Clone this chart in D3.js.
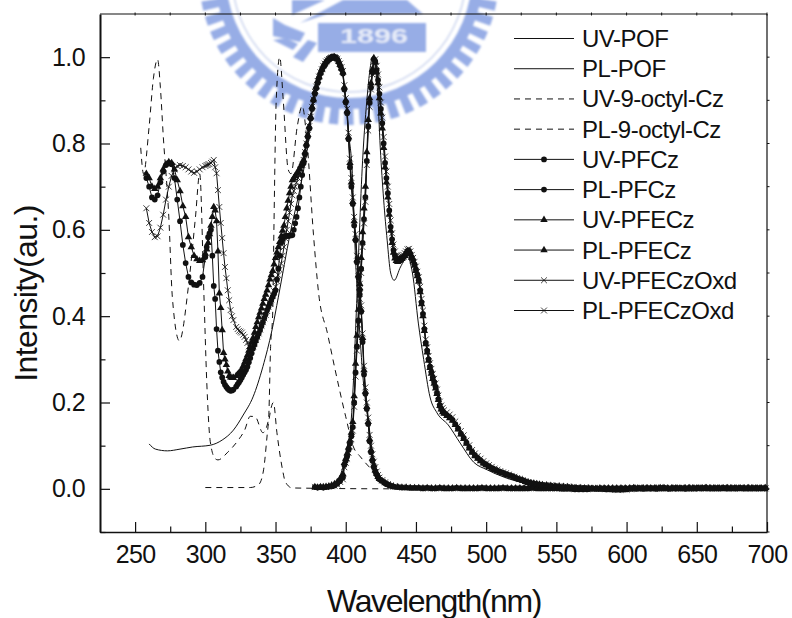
<!DOCTYPE html>
<html>
<head>
<meta charset="utf-8">
<script src="https://cdn.jsdelivr.net/npm/d3@7"></script>
<style>
  html, body { margin: 0; padding: 0; background: #fff; }
  text { font-family: "Liberation Sans", Arial, sans-serif; fill: #111; }
</style>
</head>
<body>
<div id="chart"></div>
<script>
var w = 792;
var h = 618;
var margin = ({top: 14, right: 25, bottom: 86, left: 100});

// wavelength grids, denser where the curves are steep
var uvGrid = [].concat(d3.range(258, 300, 2), d3.range(300, 321, 1), d3.range(322, 399, 1), d3.range(399, 425, 1), d3.range(426, 433, 2), d3.range(434, 701, 3));
var plGrid = [].concat(d3.range(378, 399, 2), d3.range(399, 471, 1), d3.range(472, 541, 2), d3.range(543, 701, 3));

// the flat end of the three absorption scans, 434 to 698 nm
var uvTail = [.005,.004,.003,.003,.002,.002,.002,.001,.002,.001,.001,.002,.001,.001,.001,.002,.001,.001,.001,.001,
  .001,.002,.001,.001,.001,.001,.002,.001,.001,.001,.001,.001,.001,.002,.001,.001,.001,.001,.001,.001,
  0,0,0,-.001,-.001,-.001,-.001,0,0,.001,.001,.001,.001,.001,.001,.001,.001,.002,.001,.001,
  .001,.001,.001,.001,.002,.001,.001,.001,.001,.001,.001,.001,.001,.001,.002,.001,.001,.001,.001,.001,
  .001,.001,.001,.001,.001,.001,.001,.001,.001];

var uvPFCz = [.72,.70,.675,.67,.68,.71,.735,.75,.755,.752,.72,.67,.62,.565,.523,.491,.478,.473,.472,.477,.491,
  .537,.56,.583,.592,.6,.54,.47,.44,.37,.32,.294,.27,.258,.248,.241,.236,.232,.229,.227,.228,.23,
  .237,.242,.247,.252,.258,.264,.27,.276,.283,.293,
  .303,.314,.325,.334,.343,.352,.36,.368,.377,.386,
  .396,.405,.414,.422,.43,.438,.445,.452,.46,.485,
  .51,.54,.57,.578,.585,.586,.586,.586,.587,.587,
  .588,.6,.615,.63,.65,.675,.7,.727,.754,.775,
  .795,.815,.835,.858,.88,.9,.915,.928,.94,.952,
  .962,.97,.977,.982,.987,.991,.995,.997,.999,1,
  1,.998,.995,.988,.98,.972,.962,
  .925,.895,.87,.81,.745,.70,.66,.61,.576,.525,.49,.46,.41,.34,.265,.22,.185,.15,.11,.085,.065,.05,.04,.033,.027,.022,
  .018,.013,.01,.007].concat(uvTail);
var uvPFECz = [.73,.72,.70,.695,.70,.72,.74,.752,.757,.755,.74,.715,.69,.655,.63,.583,.56,.54,.532,.528,.53,
  .545,.555,.57,.59,.61,.63,.653,.645,.62,.55,.453,.419,.368,.315,.3,.287,.272,.262,.258,.257,.257,
  .262,.265,.268,.272,.277,.285,.293,.301,.31,.32,
  .329,.34,.35,.362,.375,.386,.398,.408,.418,.429,
  .44,.45,.46,.472,.485,.495,.505,.52,.535,.548,
  .56,.572,.585,.598,.61,.63,.65,.668,.685,.7,
  .715,.72,.725,.73,.735,.741,.748,.755,.762,.78,
  .80,.82,.84,.862,.885,.902,.92,.932,.945,.955,
  .965,.972,.98,.985,.99,.993,.996,.998,.999,1,
  1,.998,.996,.99,.983,.974,.965,
  .93,.90,.875,.815,.755,.71,.665,.62,.58,.53,.495,.465,.415,.35,.275,.225,.19,.155,.115,.09,.07,.055,.043,.035,.028,.023,
  .018,.014,.01,.007].concat(uvTail);
var uvOxd = [.65,.616,.595,.583,.585,.605,.635,.67,.70,.725,.74,.748,.75,.748,.745,.74,.735,.732,.735,.74,.745,
  .748,.75,.751,.752,.755,.758,.762,.745,.731,.692,.653,.616,.581,.546,.514,.488,.46,.437,.414,.40,.391,
  .375,.37,.366,.364,.362,.357,.352,.345,.338,.33,
  .322,.326,.33,.337,.345,.352,.36,.369,.378,.386,
  .395,.403,.412,.421,.43,.439,.448,.458,.468,.481,
  .495,.508,.522,.54,.56,.58,.6,.62,.64,.66,
  .68,.69,.70,.71,.72,.73,.74,.751,.762,.78,
  .80,.82,.84,.862,.885,.902,.92,.932,.945,.955,
  .965,.972,.98,.985,.99,.993,.996,.998,.999,1,
  1,.998,.996,.991,.985,.977,.968,
  .935,.905,.88,.825,.765,.72,.675,.63,.59,.54,.505,.475,.425,.36,.285,.235,.2,.165,.125,.1,.08,.063,.05,.04,.032,.026,
  .02,.015,.011,.008].concat(uvTail);

var plPFCz = [.004,.003,.004,.003,.004,.005,.006,.008,.012,.018,.026,
  .055,.065,.075,.09,.105,.122,.143,.2,.27,.33,.39,.45,.51,.57,.625,.676,.76,.84,.895,.93,
  .965,.995,.99,.97,.947,.915,.88,.847,.8,.755,.72,.685,.645,.607,.578,.553,.54,.533,.53,.531,
  .533,.535,.537,.541,.546,.551,.552,.545,.537,.53,.52,.508,.496,.484,.46,.432,.405,.37,.338,.32,
  .3,.283,.27,.258,.247,.236,.222,.208,.194,.186,.18,.176,
  .171,.166,.16,.15,.14,.128,.118,.107,.096,.086,.078,.072,.066,.06,.056,.052,.048,.045,.042,.039,
  .037,.034,.032,.03,.027,.024,.022,.02,.017,.015,.013,.012,.011,.01,.009,
  .008,.007,.006,.005,.004,.004,.003,.003,.002,.002,.001,.001,0,0,-.001,-.001,-.002,-.002,-.002,-.001,
  0,0,.001,0,.001,.001,0,.001,.001,0,.001,.001,.001,0,.001,.001,.002,.001,.001,.001,
  .001,.001,.002,.001,.001,.001,.002,.001,.001,.001,.001,.001,.001,.001];
var plPFECz = [.004,.003,.004,.004,.005,.006,.008,.011,.016,.024,.034,
  .06,.07,.082,.096,.112,.13,.155,.215,.29,.355,.415,.475,.535,.595,.65,.70,.78,.855,.905,.94,
  .972,.998,.988,.965,.94,.905,.87,.835,.79,.745,.71,.675,.635,.598,.57,.547,.534,.528,.526,.528,
  .53,.533,.536,.54,.545,.55,.551,.543,.535,.527,.517,.505,.493,.48,.456,.428,.4,.366,.335,.316,
  .297,.28,.267,.255,.244,.233,.22,.206,.192,.184,.178,.174,
  .169,.164,.158,.148,.138,.126,.116,.105,.094,.084,.076,.07,.064,.059,.055,.051,.047,.044,.041,.038,
  .036,.033,.031,.029,.026,.023,.021,.019,.016,.014,.013,.012,.011,.01,.009,
  .008,.007,.006,.006,.005,.004,.003,.002,.002,.001,.001,0,0,-.001,-.001,-.002,-.002,-.002,-.001,-.001,
  0,.001,0,.001,.001,0,.001,.002,.001,0,.001,.001,0,.001,.002,.001,.001,.001,.002,.001,
  .001,.001,.001,.002,.001,.001,.001,.001,.002,.001,.001,.001,.002,.001];
var plOxd = [.004,.004,.003,.004,.004,.005,.006,.007,.01,.016,.022,
  .05,.06,.07,.084,.098,.115,.135,.19,.26,.32,.38,.44,.5,.56,.615,.665,.75,.83,.885,.925,
  .96,.99,.995,.98,.96,.93,.895,.86,.815,.77,.735,.7,.66,.622,.592,.566,.55,.541,.537,.537,
  .538,.54,.542,.546,.55,.555,.556,.55,.542,.535,.526,.515,.503,.49,.468,.44,.413,.378,.346,.328,
  .308,.291,.278,.266,.255,.244,.23,.216,.202,.193,.187,.182,
  .177,.172,.166,.156,.146,.134,.124,.112,.101,.09,.082,.076,.07,.064,.059,.055,.051,.047,.044,.041,
  .038,.036,.033,.03,.028,.025,.023,.02,.018,.016,.014,.012,.011,.01,.009,
  .009,.008,.007,.006,.005,.005,.004,.003,.002,.002,.002,.001,0,0,-.001,-.002,-.002,-.003,-.002,-.002,
  -.001,0,0,.001,0,.001,.001,0,.001,.001,0,.002,.001,.001,.001,0,.001,.002,.001,.001,
  .001,.002,.001,.001,.001,.002,.001,.001,.001,.001,.002,.001,.001,.001];

// thin curves without markers, own wavelength lists
var uvPOFWl = [260,264.5,273,282,291,303.5,312,320,327,334,341,347.5,352,360.5,367.7,372.5,377,383,391,397.5,402,404.7,407,409,412.5,416,421,430,440];
var uvPOF = [.104,.092,.088,.092,.097,.101,.113,.136,.171,.213,.283,.368,.444,.593,.7,.785,.893,.963,1,.963,.824,.731,.53,.414,.25,.16,.05,.014,.002];
var plPOFWl = [378,390,396,401,403.5,405.5,407.5,412,415.5,417.5,419,420.5,422.5,424.6,427,429.5,432,434.5,439,444,447.5,451.7,455.5,460,465,473,481.5,491,500.7,512,526.5,538.6,562,600,700];
var plPOF = [.002,.004,.03,.097,.143,.25,.407,.76,.917,.977,1,.985,.93,.79,.67,.576,.5,.483,.514,.537,.5,.384,.3,.213,.176,.148,.106,.062,.044,.028,.014,.009,.004,.001,.001];
var uvCzWl = [254,256,260,263,266,268,270,274,276.5,281.5,288,293,296,299,301,303.5,307,309,316,323.5,328,332,335.5,341,345,346.5,348,348.8,350.5,353,355.5,359,361,365.5,369,372.5,377,380.7,387,392.5,400,405.5,410.5,417.5,427,439];
var uvCz = [.79,.73,.84,.95,.995,.93,.82,.63,.445,.343,.47,.63,.73,.45,.25,.11,.07,.067,.085,.113,.136,.168,.167,.13,.16,.33,.41,.59,.9,1,.9,.74,.73,.84,.887,.80,.59,.453,.36,.275,.167,.097,.074,.048,.02,.002];
var plCzWl = [300,332,338,341.5,345,348.5,351,355,357,362,439,500,700];
var plCz = [.003,.003,.01,.044,.152,.2,.13,.044,.016,.002,0,0,0];

var seriesNames = ['UV-POF','PL-POF','UV-9-octyl-Cz','PL-9-octyl-Cz','UV-PFCz','PL-PFCz','UV-PFECz','PL-PFECz','UV-PFECzOxd','PL-PFECzOxd'];

var x = d3.scaleLinear().domain([225, 700]).range([margin.left, w - margin.right]);
var y = d3.scaleLinear().domain([-0.1, 1.1]).range([h - margin.bottom, margin.top]);

var svg = d3.select('#chart').append('svg')
  .attr('width', w)
  .attr('height', h)
  .style('display', 'block');

svg.append('defs').append('filter').attr('id', 'soft')
  .append('feGaussianBlur').attr('stdDeviation', 0.9);

// school emblem watermark behind the plot
var mark = svg.append('g').attr('filter', 'url(#soft)').attr('fill', '#97ade6');
var emblem = mark.append('g').attr('transform', 'translate(349,-25)');
var arc = d3.arc();
emblem.append('path').attr('d', arc({innerRadius: 123, outerRadius: 134, startAngle: -Math.PI, endAngle: Math.PI}));
d3.range(0, 360, 6).forEach(function(a) {
  emblem.append('path').attr('d', arc({
    innerRadius: 132,
    outerRadius: 150,
    startAngle: (a - 1.8) * Math.PI / 180,
    endAngle: (a + 1.8) * Math.PI / 180
  }));
});
emblem.append('circle').attr('r', 117).attr('fill', 'none').attr('stroke', '#ccd5ee').attr('stroke-width', 1.5);
mark.append('rect').attr('x', 318).attr('y', 23).attr('width', 108).attr('height', 29);
mark.append('path').attr('d', 'M343,0 L407,0 L423,14 L327,14 L300,23 Z');
mark.append('path').attr('d', 'M292,0 L325,0 L292,15 Z');
mark.append('path').attr('d', 'M273,18 L285,25 L305,33 L300,42 L273,36 Z');
mark.append('path').attr('d', 'M273,40 L293,50 L298,44 L286,38 Z');
mark.append('path').attr('d', 'M293,57 L303,62 L317,43 L308,40 Z');
mark.append('text').attr('x', 340).attr('y', 43)
  .attr('font-size', 19.5).attr('font-weight', 'bold')
  .attr('textLength', 68).attr('lengthAdjust', 'spacingAndGlyphs')
  .style('fill', '#e6ebf8')
  .text('1896');

// frame with small outer ticks on top and right
var frame = svg.append('g').attr('stroke', '#111').attr('fill', 'none');
frame.append('line').attr('x1', x(225)).attr('x2', x(700)).attr('y1', y(1.1)).attr('y2', y(1.1)).attr('stroke-width', 1.2);
frame.append('line').attr('x1', x(700)).attr('x2', x(700)).attr('y1', y(1.1)).attr('y2', y(-0.1)).attr('stroke-width', 1.2);
frame.selectAll('.tt').data(d3.range(250, 701, 25)).enter().append('line')
  .attr('x1', d => x(d)).attr('x2', d => x(d)).attr('y1', y(1.1) - 1.5).attr('y2', y(1.1) + 1.5);
frame.selectAll('.rt').data(d3.range(-0.1, 1.05, 0.1)).enter().append('line')
  .attr('x1', x(700)).attr('x2', x(700) + 2.5).attr('y1', d => y(d)).attr('y2', d => y(d));

// bottom and left axes with inward ticks
var xAxis = d3.axisBottom(x).tickValues(d3.range(250, 701, 25))
  .tickFormat(d => d % 50 === 0 ? d : '')
  .tickSizeOuter(0).tickPadding(12);
var yAxis = d3.axisLeft(y).tickValues(d3.range(-0.1, 1.05, 0.1))
  .tickFormat(d => Math.round(d * 10) % 2 === 0 && d > -0.05 ? d3.format('.1f')(d) : '')
  .tickSizeOuter(0).tickPadding(9);

var gx = svg.append('g').attr('transform', 'translate(0,' + y(-0.1) + ')').call(xAxis);
gx.select('.domain').attr('stroke', '#111').attr('stroke-width', 1.5);
gx.selectAll('.tick line')
  .attr('stroke', '#111').attr('stroke-width', 1.2)
  .attr('y2', d => d % 50 === 0 ? -10 : -5.5);
gx.selectAll('.tick text').attr('y', 11).attr('font-size', 25).attr('letter-spacing', -0.6).attr('dy', '0.8em');

var gy = svg.append('g').attr('transform', 'translate(' + margin.left + ',0)').call(yAxis);
gy.select('.domain').attr('stroke', '#111').attr('stroke-width', 2);
gy.selectAll('.tick line')
  .attr('stroke', '#111').attr('stroke-width', 1.2)
  .attr('x2', d => Math.round(d * 10) % 2 === 0 ? 10 : 5.5);
gy.selectAll('.tick text').attr('font-size', 25).attr('letter-spacing', -0.6);

svg.append('text').attr('x', 434).attr('y', 612).attr('text-anchor', 'middle')
  .attr('font-size', 32).attr('letter-spacing', -1.4).text('Wavelength(nm)');
svg.append('text').attr('transform', 'translate(37,293.5) rotate(-90)').attr('text-anchor', 'middle')
  .attr('font-size', 32).attr('letter-spacing', -0.6).text('Intensity(au.)');

// curves
var line = d3.line().x(d => x(d[0])).y(d => y(d[1]));
var smooth = d3.line().x(d => x(d[0])).y(d => y(d[1])).curve(d3.curveMonotoneX);

function drawMarks(xs, ys, kind) {
  var pts = d3.zip(xs, ys);
  svg.append('path').attr('d', line(pts)).attr('fill', 'none').attr('stroke', '#111').attr('stroke-width', 1);
  svg.append('g').selectAll('path').data(pts).enter().append('path')
    .call(styleMarker, kind)
    .attr('transform', d => 'translate(' + x(d[0]) + ',' + y(d[1]) + ')');
}

function styleMarker(sel, kind) {
  if (kind === 'circle') {
    sel.attr('d', d3.symbol(d3.symbolCircle, 26)).attr('fill', '#111');
  } else if (kind === 'triangle') {
    sel.attr('d', d3.symbol(d3.symbolTriangle, 24)).attr('fill', '#111');
  } else {
    sel.attr('d', d3.symbol(d3.symbolTimes, 24)).attr('fill', 'none').attr('stroke', '#111').attr('stroke-width', 0.8);
  }
}

function drawThin(xs, ys, dash) {
  svg.append('path').attr('d', smooth(d3.zip(xs, ys)))
    .attr('fill', 'none').attr('stroke', '#111').attr('stroke-width', 1)
    .attr('stroke-dasharray', dash ? '6,5' : null);
}

drawThin(uvPOFWl, uvPOF, false);
drawThin(plPOFWl, plPOF, false);
drawThin(uvCzWl, uvCz, true);
drawThin(plCzWl, plCz, true);
drawMarks(uvGrid, uvPFCz, 'circle');
drawMarks(plGrid, plPFCz, 'circle');
drawMarks(uvGrid, uvPFECz, 'triangle');
drawMarks(plGrid, plPFECz, 'triangle');
drawMarks(uvGrid, uvOxd, 'times');
drawMarks(plGrid, plOxd, 'times');

// legend
var legendKinds = [null, null, null, null, 'circle', 'circle', 'triangle', 'triangle', 'times', 'times'];
var legendY = d3.scalePoint().domain(seriesNames).range([38.5, 310.5]);
var legend = svg.append('g');
seriesNames.forEach(function(name, i) {
  var ly = legendY(name);
  legend.append('line').attr('x1', 514).attr('x2', 574).attr('y1', ly).attr('y2', ly)
    .attr('stroke', '#111').attr('stroke-width', 1)
    .attr('stroke-dasharray', i === 2 || i === 3 ? '6,5' : null);
  if (legendKinds[i]) {
    legend.append('path').call(styleMarker, legendKinds[i])
      .attr('transform', 'translate(544,' + ly + ')');
  }
  legend.append('text').attr('x', 582).attr('y', ly + 8.5)
    .attr('font-size', 24).attr('letter-spacing', -0.5).text(name);
});

console.log(uvGrid.length, uvPFCz.length, uvPFECz.length, uvOxd.length, plGrid.length, plPFCz.length, plPFECz.length, plOxd.length);
</script>
</body>
</html>
